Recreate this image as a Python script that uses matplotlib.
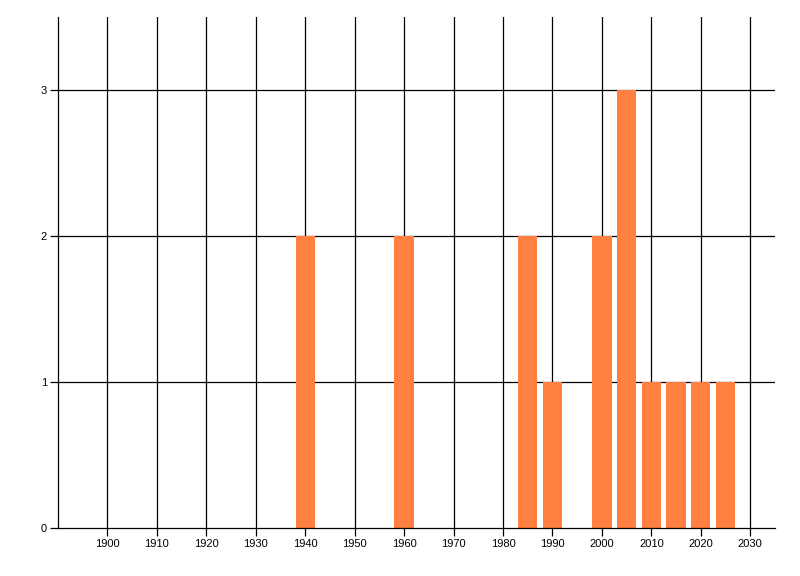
import numpy as np
import matplotlib
matplotlib.use('Agg')
import matplotlib.pyplot as plt

years = [1940, 1960, 1985, 1990, 2000, 2005, 2010, 2015, 2020, 2025]
counts = [2, 2, 2, 1, 2, 3, 1, 1, 1, 1]
xticks = list(range(1900, 2031, 10))
yticks = [0, 1, 2, 3]

plt.rcParams['font.family'] = ['Liberation Sans', 'DejaVu Sans']

fig = plt.figure(figsize=(8, 5.76), dpi=100)
ax = fig.add_axes([58/800, 48/576, 717/800, 511/576])

# grid first, bars drawn over it
for x in xticks:
    ax.axvline(x, color='black', lw=0.9, zorder=1)
for y in yticks[1:]:
    ax.axhline(y, color='black', lw=0.9, zorder=1)

ax.bar(years, counts, width=3.9, color='#FF8040', zorder=2)

ax.set_xlim(1890, 2035)
ax.set_ylim(0, 3.5)
ax.set_xticks(xticks)
ax.set_yticks(yticks)
ax.tick_params(axis='both', length=6, width=0.9, color='black', labelsize=8, pad=2)

for side in ['top', 'right']:
    ax.spines[side].set_visible(False)
for side in ['left', 'bottom']:
    ax.spines[side].set_linewidth(0.9)
    ax.spines[side].set_color('black')

fig.savefig('out.png', dpi=100)
